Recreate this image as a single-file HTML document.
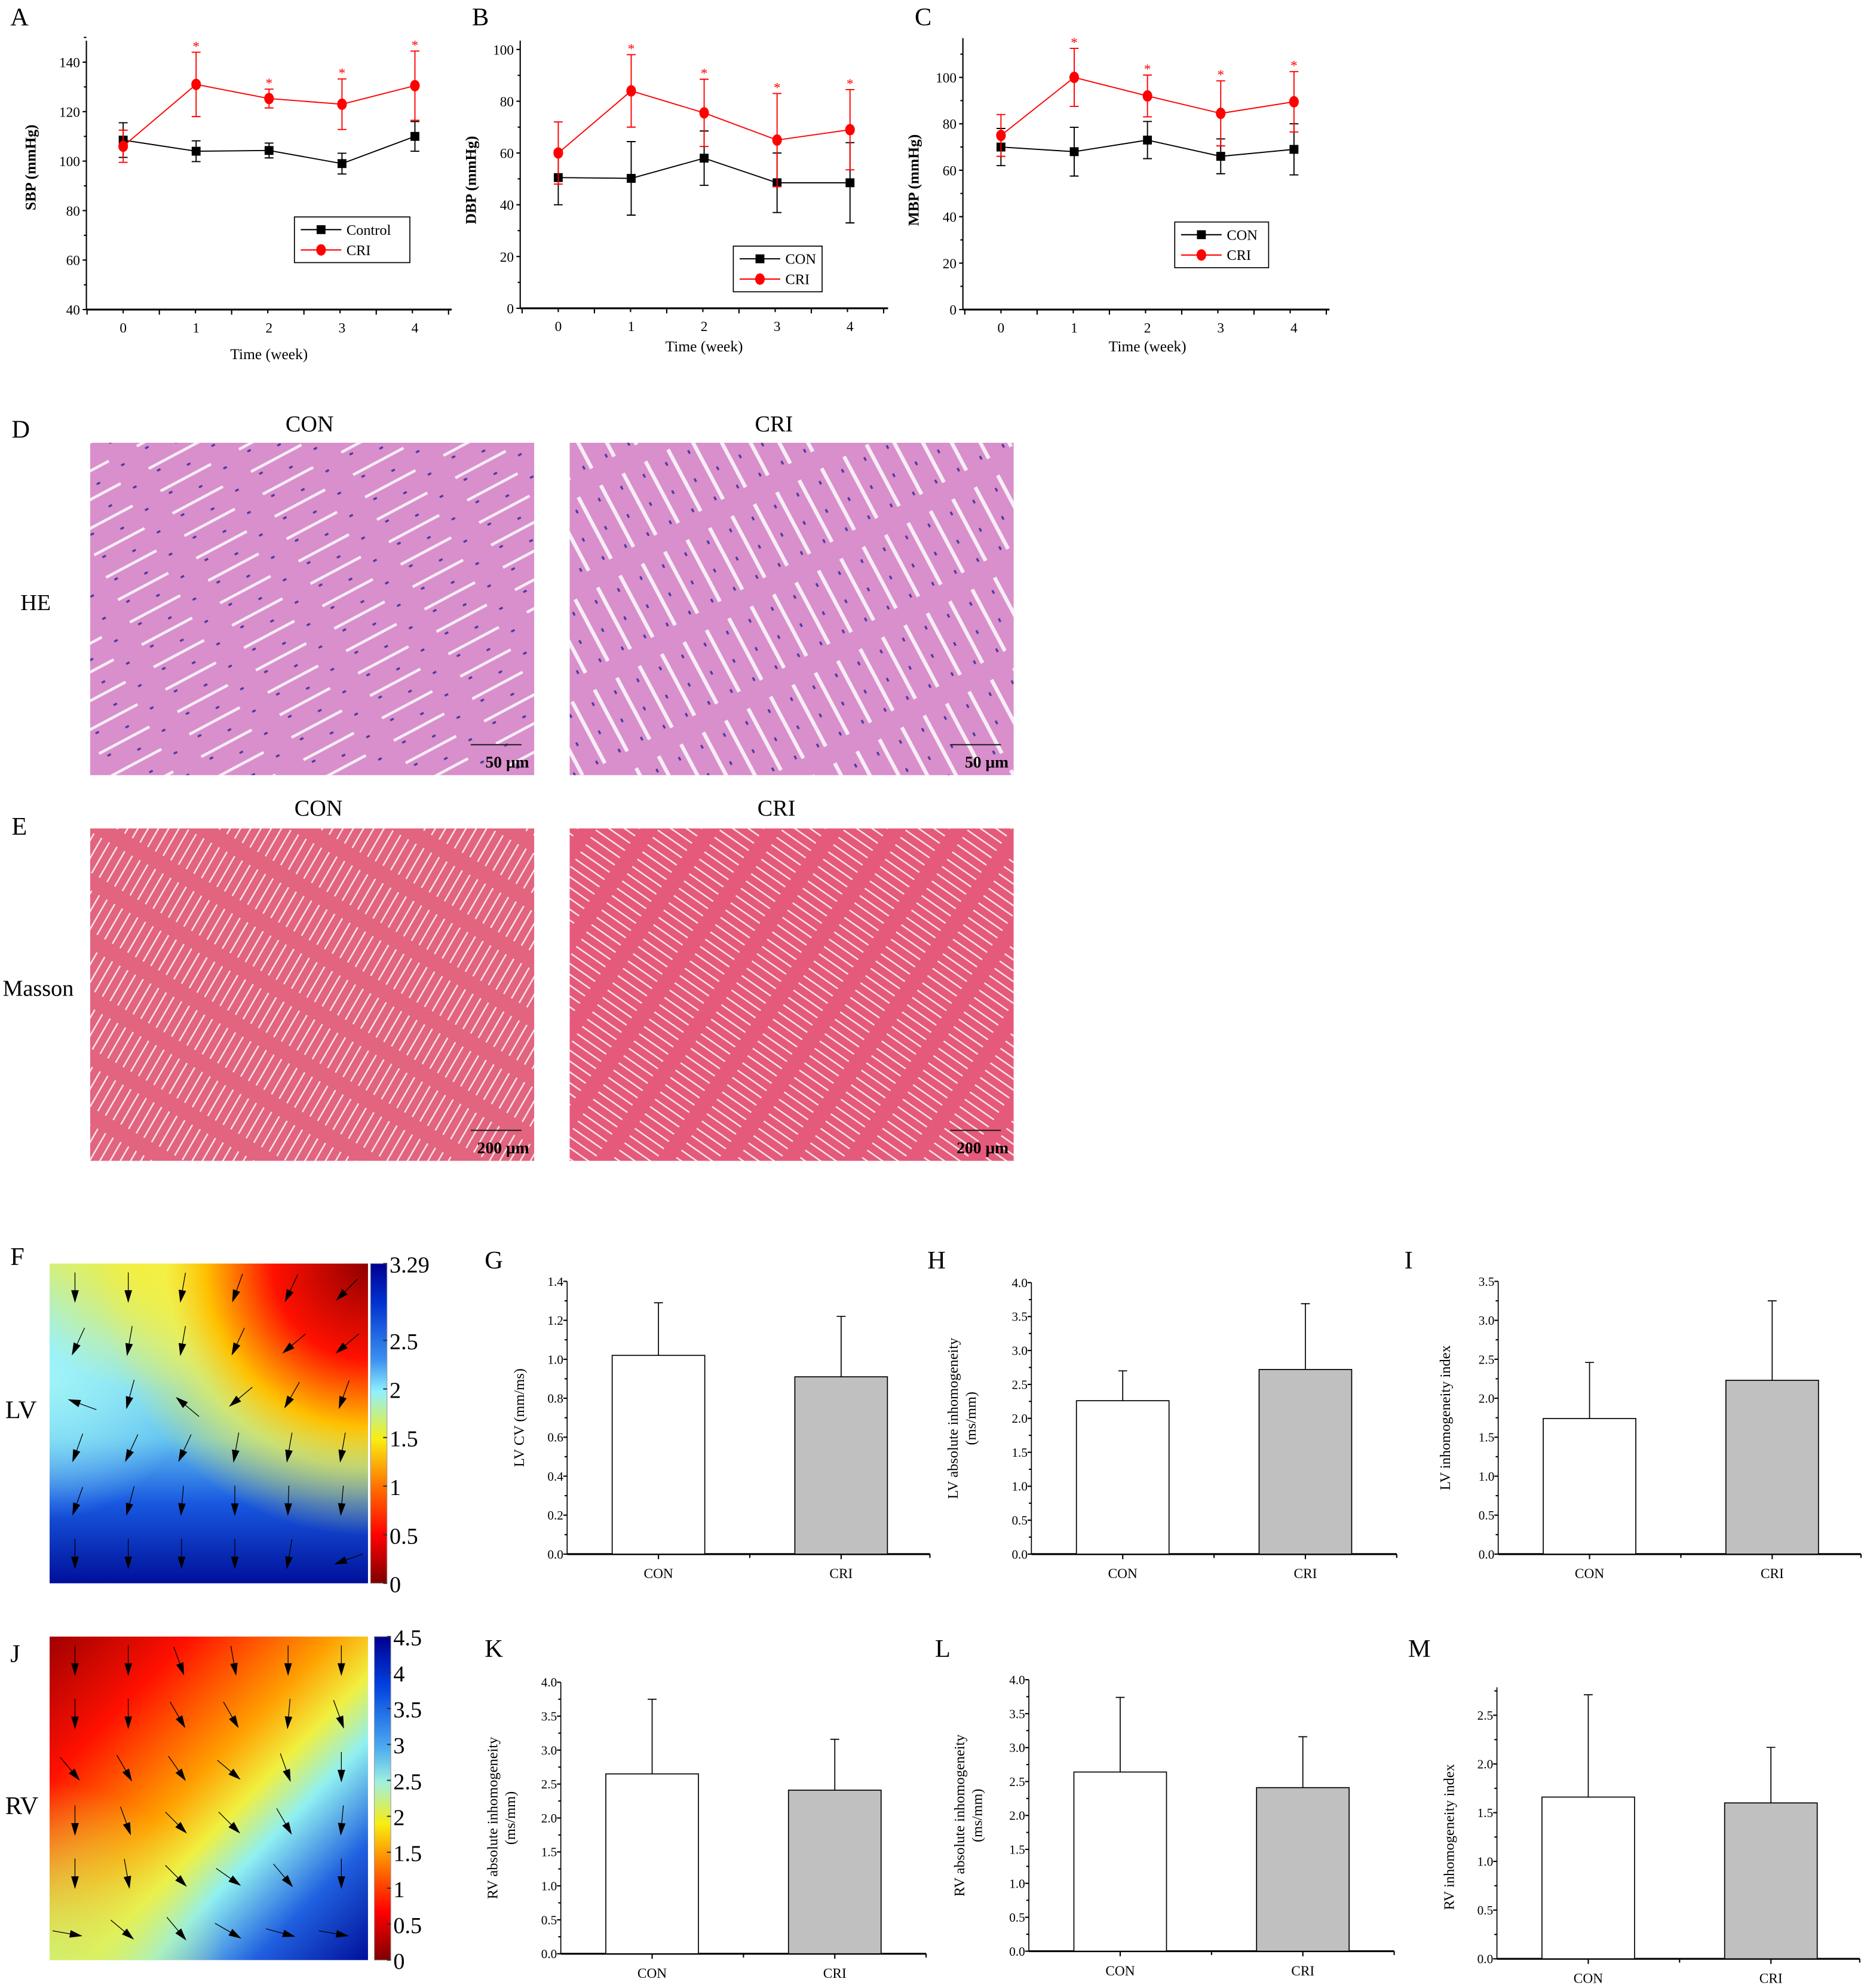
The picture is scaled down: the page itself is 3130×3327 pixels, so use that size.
<!DOCTYPE html>
<html><head><meta charset="utf-8"><style>
html,body{margin:0;padding:0;background:#fff;}
svg{display:block;}
text{font-family:"Liberation Serif",serif;}
</style></head><body>
<svg id="fig" width="3130" height="3327" viewBox="0 0 1474 1567" xmlns="http://www.w3.org/2000/svg">
<defs>
<pattern id="heP" width="70" height="20" patternUnits="userSpaceOnUse" patternTransform="rotate(-28)">
<rect width="70" height="20" fill="#d98fcb"/>
<rect y="0" width="45" height="2.2" fill="#f6eef6"/>
<rect x="5" y="5" width="3" height="1.6" fill="#4a3aa0"/><rect x="28" y="12" width="3" height="1.6" fill="#4a3aa0"/><rect x="52" y="8" width="3" height="1.6" fill="#4a3aa0"/>
</pattern>
<pattern id="heP2" width="70" height="20" patternUnits="userSpaceOnUse" patternTransform="rotate(62)">
<rect width="70" height="20" fill="#d98fcb"/>
<rect y="0" width="55" height="3" fill="#f6eef6"/>
<rect x="8" y="7" width="3" height="1.6" fill="#4a3aa0"/><rect x="30" y="13" width="3" height="1.6" fill="#4a3aa0"/><rect x="50" y="6" width="3" height="1.6" fill="#4a3aa0"/>
</pattern>
<pattern id="maP" width="40" height="7" patternUnits="userSpaceOnUse" patternTransform="rotate(-60)">
<rect width="40" height="7" fill="#e2647f"/><rect width="28" height="1.2" fill="#f8e4ea"/>
</pattern>
<pattern id="maP2" width="40" height="7" patternUnits="userSpaceOnUse" patternTransform="rotate(35)">
<rect width="40" height="7" fill="#e55a7a"/><rect width="28" height="1.2" fill="#f8e4ea"/>
</pattern>
<linearGradient id="cbF" x1="0" y1="0" x2="0" y2="1">
<stop offset="0" stop-color="#00008f"/><stop offset="0.12" stop-color="#0030d0"/><stop offset="0.3" stop-color="#3a90f0"/><stop offset="0.4" stop-color="#90f0ff"/><stop offset="0.55" stop-color="#f8ee10"/><stop offset="0.7" stop-color="#ff7000"/><stop offset="0.85" stop-color="#ff0000"/><stop offset="1" stop-color="#800000"/>
</linearGradient>
<linearGradient id="cbJ" x1="0" y1="0" x2="0" y2="1">
<stop offset="0" stop-color="#00008f"/><stop offset="0.15" stop-color="#0040e0"/><stop offset="0.35" stop-color="#50b0f0"/><stop offset="0.45" stop-color="#a0f0e0"/><stop offset="0.58" stop-color="#f8ee10"/><stop offset="0.7" stop-color="#ff8000"/><stop offset="0.85" stop-color="#ff0000"/><stop offset="1" stop-color="#800000"/>
</linearGradient>
<linearGradient id="hfBase" x1="0" y1="0" x2="0" y2="1">
<stop offset="0" stop-color="#d8f070"/><stop offset="0.25" stop-color="#90e8f0"/><stop offset="0.55" stop-color="#60c0f0"/><stop offset="0.75" stop-color="#1858e0"/><stop offset="1" stop-color="#00109a"/>
</linearGradient>
<radialGradient id="hfCyan" cx="0" cy="0.35" r="0.45">
<stop offset="0" stop-color="#a0f4f8"/><stop offset="1" stop-color="#a0f4f8" stop-opacity="0"/>
</radialGradient>
<radialGradient id="hfRed" cx="1" cy="0" r="0.85">
<stop offset="0" stop-color="#900000"/><stop offset="0.35" stop-color="#ff1000"/><stop offset="0.6" stop-color="#ffc000"/><stop offset="0.75" stop-color="#f8f040" stop-opacity="0.7"/><stop offset="1" stop-color="#f8f040" stop-opacity="0"/>
</radialGradient>
<radialGradient id="hfYel" cx="0.3" cy="0" r="0.4">
<stop offset="0" stop-color="#f0ee40"/><stop offset="1" stop-color="#f0ee40" stop-opacity="0"/>
</radialGradient>
<linearGradient id="hjBase" x1="0" y1="0" x2="1" y2="1">
<stop offset="0" stop-color="#a00000"/><stop offset="0.22" stop-color="#ff1000"/><stop offset="0.45" stop-color="#ffa000"/><stop offset="0.56" stop-color="#f0f040"/><stop offset="0.66" stop-color="#90f0f0"/><stop offset="0.82" stop-color="#2060e0"/><stop offset="1" stop-color="#00109a"/>
</linearGradient>
<radialGradient id="hjYel" cx="0" cy="1" r="0.55">
<stop offset="0" stop-color="#d0f070"/><stop offset="1" stop-color="#e0f060" stop-opacity="0"/>
</radialGradient>
</defs>
<g id="root"></g>
</svg>
<script>
// ---- data ----
const weeks = [0,1,2,3,4];
const sbpCon = [108.5,104,104.3,99,110];
const sbpConErr = [7,4.2,3,4.2,6];
const sbpCri = [106,131,125.3,123,130.5];
const sbpCriErr = [6.5,13,3.8,10.2,14];
const dbpCon = [50.5,50.2,58,48.5,48.5];
const dbpConErr = [10.5,14.2,10.5,11.5,15.5];
const dbpCri = [60,84,75.5,65,69];
const dbpCriErr = [12,14,13,18,15.5];
const mbpCon = [70,68,73,66,69];
const mbpConErr = [8,10.5,8,7.5,11];
const mbpCri = [75,100,92,84.5,89.5];
const mbpCriErr = [9,12.5,9,14,13];
const barCats = ['CON','CRI'];
const lvCv = [1.02,0.91]; const lvCvErr = [0.27,0.31];
const lvAbs = [2.26,2.72]; const lvAbsErr = [0.44,0.97];
const lvIdx = [1.74,2.23]; const lvIdxErr = [0.72,1.02];
const rvAbsK = [2.65,2.41]; const rvAbsKErr = [1.1,0.75];
const rvAbsL = [2.64,2.41]; const rvAbsLErr = [1.1,0.75];
const rvIdx = [1.66,1.6]; const rvIdxErr = [1.05,0.57];
const cbFTicks = ['3.29','2.5','2','1.5','1','0.5','0'];
const cbFVals = [3.29,2.5,2,1.5,1,0.5,0];
const cbJTicks = ['4.5','4','3.5','3','2.5','2','1.5','1','0.5','0'];
const cbJVals = [4.5,4,3.5,3,2.5,2,1.5,1,0.5,0];

const NS='http://www.w3.org/2000/svg';
const root=document.getElementById('root');
function mk(tag,attrs,parent,txt){const e=document.createElementNS(NS,tag);for(const k in attrs)e.setAttribute(k,attrs[k]);if(txt!==undefined)e.textContent=txt;(parent||root).appendChild(e);return e;}
function grp(name,parent){const g=mk('g',{},parent);return g;}
function label(t,x,y,size,name,anchor){const e=mk('text',{x:x,y:y,'font-size':size,'text-anchor':anchor||'start'},root,t);return e;}

// ---- line charts ----
function lineChart(o){
  const g=grp(o.name);
  const sx=v=>o.x0+(v-weeks[0])/(weeks[4]-weeks[0])*(o.x4-o.x0);
  const sy=v=>o.yb-(v-o.ymin)/(o.ymax-o.ymin)*(o.yb-o.yt);
  mk('line',{x1:o.ax,y1:o.yTop,x2:o.ax,y2:o.yb,stroke:'#000','stroke-width':1},g);
  mk('line',{x1:o.ax,y1:o.yb,x2:o.axEnd,y2:o.yb,stroke:'#000','stroke-width':1.5},g);
  for(let v=o.ymin;v<=o.ymax+1e-6;v+=o.ystep){const y=sy(v);mk('line',{x1:o.ax-3,y1:y,x2:o.ax,y2:y,stroke:'#000'},g);
    const t=mk('text',{x:o.ax-5,y:y+4,'font-size':11,'text-anchor':'end'},g,String(v));
    const ym=sy(v+o.ystep/2); if(v+o.ystep<=o.ymax+1e-6||o.minorTop) mk('line',{x1:o.ax-2,y1:ym,x2:o.ax,y2:ym,stroke:'#000'},g);}
  const half=(o.x1-o.x0)/2;
  for(let i=0;i<=10;i++){const x=o.x0-half+i*half; if(x<o.ax-0.5||x>o.axEnd+0.5)continue; mk('line',{x1:x,y1:o.yb,x2:x,y2:o.yb+(i%2?3:4),stroke:'#000'},g);}
  weeks.forEach(w=>{const t=mk('text',{x:sx(w),y:o.yb+18,'font-size':11,'text-anchor':'middle'},g,String(w));});
  const xt=mk('text',{x:(o.x0+o.x4)/2,y:o.xtY,'font-size':12,'text-anchor':'middle'},g,'Time (week)');
  const yt=mk('text',{x:0,y:0,'font-size':12,'font-weight':'bold','text-anchor':'middle',transform:`translate(${o.ytX},${o.ytY}) rotate(-90)`},g,o.ytitle);
  function series(vals,errs,color,shape,nm,star){
    const sg=grp(nm,g);
    mk('polyline',{points:vals.map((v,i)=>sx(weeks[i])+','+sy(v)).join(' '),fill:'none',stroke:color,'stroke-width':0.9},sg);
    vals.forEach((v,i)=>{const x=sx(weeks[i]);const yt=sy(v+errs[i]),yb2=sy(v-errs[i]);
      const e=mk('path',{d:`M${x},${yt}V${yb2}M${x-3.5},${yt}H${x+3.5}M${x-3.5},${yb2}H${x+3.5}`,stroke:color,'stroke-width':0.9,fill:'none'},sg);
      
      let m; if(shape==='sq'){m=mk('rect',{x:x-3.5,y:sy(v)-3.5,width:7,height:7,fill:color},sg);}else{m=mk('ellipse',{cx:x,cy:sy(v),rx:3.8,ry:4.5,fill:color},sg);}
      
      if(star&&i>0){const s=mk('text',{x:x,y:yt-1,'font-size':11,fill:'#f00','text-anchor':'middle'},sg,'*');}
    });
  }
  series(o.con,o.conErr,'#000','sq','series-control',false);
  series(o.cri,o.criErr,'#f00','ci','series-cri',true);
  const lg=grp('legend',g);
  mk('rect',{x:o.lx,y:o.ly,width:o.lw,height:36,fill:'#fff',stroke:'#000','stroke-width':0.8},lg);
  [[o.names[0],'#000','sq'],[o.names[1],'#f00','ci']].forEach((it,i)=>{
    const y=o.ly+10+i*16; const e=grp('legend-entry',lg);
    mk('line',{x1:o.lx+5,y1:y,x2:o.lx+37,y2:y,stroke:it[1]},e);
    if(it[2]==='sq')mk('rect',{x:o.lx+17.5,y:y-3.5,width:7,height:7,fill:it[1]},e);else mk('ellipse',{cx:o.lx+21,cy:y,rx:3.8,ry:4.5,fill:it[1]},e);
    mk('text',{x:o.lx+41,y:y+4,'font-size':11.5},e,it[0]);
  });
}
lineChart({name:'chart-sbp',ax:68,axEnd:356,yTop:32,yb:244,yt:49,ymin:40,ymax:140,ystep:20,minorTop:true,x0:97,x1:154,x4:327,con:sbpCon,conErr:sbpConErr,cri:sbpCri,criErr:sbpCriErr,xtY:283,ytitle:'SBP (mmHg)',ytX:28,ytY:132,lx:232,ly:171,lw:91,names:['Control','CRI']});
lineChart({name:'chart-dbp',ax:410,axEnd:700,yTop:32,yb:243,yt:39,ymin:0,ymax:100,ystep:20,x0:440,x1:497,x4:670,con:dbpCon,conErr:dbpConErr,cri:dbpCri,criErr:dbpCriErr,xtY:277,ytitle:'DBP (mmHg)',ytX:375,ytY:142,lx:578,ly:194,lw:70,names:['CON','CRI']});
lineChart({name:'chart-mbp',ax:759,axEnd:1048,yTop:30,yb:244,yt:61,ymin:0,ymax:100,ystep:20,minorTop:true,x0:789,x1:846,x4:1020,con:mbpCon,conErr:mbpConErr,cri:mbpCri,criErr:mbpCriErr,xtY:277,ytitle:'MBP (mmHg)',ytX:724,ytY:142,lx:926,ly:175,lw:74,names:['CON','CRI']});

label('A',8,20,20,'panel-label-a');label('B',372,20,20,'panel-label-b');label('C',721,20,20,'panel-label-c');

// ---- histology ----
label('D',9,345,20,'panel-label-d');label('E',9,658,20,'panel-label-e');
label('CON',244,340,18,'he-con-title','middle');label('CRI',610,340,18,'he-cri-title','middle');
label('CON',251,643,18,'masson-con-title','middle');label('CRI',612,643,18,'masson-cri-title','middle');
label('HE',16,481,18,'he-row-label');label('Masson',2,785,18,'masson-row-label');
function histo(x,y,fill,name,scale){const g=grp(name);mk('rect',{x:x,y:y,width:350,height:262,fill:fill},g);
  const t=mk('text',{x:x+346,y:y+256,'font-size':13,'font-weight':'bold','font-family':'Liberation Sans, sans-serif','text-anchor':'end'},g,scale);
  mk('line',{x1:x+300,y1:y+238,x2:x+340,y2:y+238,stroke:'#222','stroke-width':1},g);}
histo(71,349,'url(#heP)','he-con-image','50 μm');
histo(449,349,'url(#heP2)','he-cri-image','50 μm');
histo(71,653,'url(#maP)','masson-con-image','200 μm');
histo(449,653,'url(#maP2)','masson-cri-image','200 μm');

// ---- heatmaps ----
function heat(o){const g=grp(o.name);
  o.layers.forEach(l=>mk('rect',{x:o.x,y:o.y,width:o.w,height:o.h,fill:l},g));
  const cb=grp('colorbar',g);
  mk('rect',{x:o.cx,y:o.y,width:13,height:o.h,fill:o.cb,stroke:'#999','stroke-width':0.5},cb);
  const vmax=o.vals[0];
  o.vals.forEach((v,i)=>{const yy=o.y+o.h-(v/vmax)*o.h;
    mk('line',{x1:o.cx+10,y1:yy,x2:o.cx+13,y2:yy,stroke:'#333'},cb);
    const t=mk('text',{x:o.cx+15,y:yy+7,'font-size':18,'font-family':'Liberation Sans, sans-serif'},cb,o.ticks[i]);});
  const ag=grp('arrows',g);
  for(let r=0;r<6;r++)for(let c=0;c<6;c++){const x=o.x+20+c*42,y=o.y+25+r*42;const a=o.ang[r][c]*Math.PI/180;
    const dx=Math.cos(a),dy=Math.sin(a);const L=18;
    mk('line',{x1:x-dx*L,y1:y-dy*L,x2:x,y2:y,stroke:'#000','stroke-width':0.6},ag);
    const px=-dy,py=dx;
    mk('polygon',{points:`${x+dx*6},${y+dy*6} ${x-dx*4+px*3},${y-dy*4+py*3} ${x-dx*4-px*3},${y-dy*4-py*3}`,fill:'#000'},ag);}
}
heat({name:'heatmap-lv',x:39,y:996,w:251,h:252,cx:292,cb:'url(#cbF)',layers:['url(#hfBase)','url(#hfCyan)','url(#hfYel)','url(#hfRed)'],vals:cbFVals,ticks:cbFTicks,
 ang:[[90,90,100,110,115,135],[115,100,100,115,140,140],[200,105,220,140,120,110],[110,115,115,100,100,100],[110,105,95,90,92,95],[90,90,90,90,100,160]]});
heat({name:'heatmap-rv',x:39,y:1290,w:251,h:255,cx:295,cb:'url(#cbJ)',layers:['url(#hjBase)','url(#hjYel)'],vals:cbJVals,ticks:cbJTicks,
 ang:[[90,90,70,80,90,90],[90,90,60,60,95,70],[50,60,55,40,70,90],[90,70,45,45,60,95],[90,80,45,35,50,90],[10,40,50,30,15,10]]});
label('F',8,997,20,'panel-label-f');label('J',8,1310,20,'panel-label-j');
label('LV',4,1118,20,'lv-row-label');label('RV',4,1430,20,'rv-row-label');

// ---- bar charts ----
function barChart(o){const g=grp(o.name);
  const sy=v=>o.yb-(v/o.ymax)*(o.yb-o.yt);
  const top=o.topY!==undefined?o.topY:o.yt;
  mk('line',{x1:o.ax,y1:top,x2:o.ax,y2:o.yb,stroke:'#000','stroke-width':0.8},g);
  mk('line',{x1:o.ax,y1:o.yb,x2:o.axEnd,y2:o.yb,stroke:'#000','stroke-width':1.5},g);
  for(let v=0;v<=o.ymax+1e-6;v+=o.step){const y=sy(v);mk('line',{x1:o.ax-3,y1:y,x2:o.ax,y2:y,stroke:'#000'},g);
    const t=mk('text',{x:o.ax-3,y:y+3.5,'font-size':10,'text-anchor':'end'},g,v.toFixed(1));
    const ym=sy(v+o.step/2);if(ym>=top)mk('line',{x1:o.ax-2,y1:ym,x2:o.ax,y2:ym,stroke:'#000'},g);}
  const bw=73, cx=[o.ax+72,o.ax+216];
  mk('line',{x1:(cx[0]+cx[1])/2,y1:o.yb,x2:(cx[0]+cx[1])/2,y2:o.yb+3,stroke:'#000'},g);
  mk('line',{x1:o.axEnd,y1:o.yb,x2:o.axEnd,y2:o.yb+3,stroke:'#000'},g);
  o.vals.forEach((v,i)=>{const b=mk('rect',{x:cx[i]-bw/2,y:sy(v),width:bw,height:o.yb-sy(v),fill:i?'#c0c0c0':'#fff',stroke:'#000','stroke-width':0.8},g);
    
    const et=sy(v+o.errs[i]);
    const e=mk('path',{d:`M${cx[i]},${sy(v)}V${et}M${cx[i]-3.5},${et}H${cx[i]+3.5}`,stroke:'#000','stroke-width':0.8,fill:'none'},g);
    mk('line',{x1:cx[i],y1:o.yb,x2:cx[i],y2:o.yb+4,stroke:'#000'},g);
    const t=mk('text',{x:cx[i],y:o.yb+19,'font-size':11,'text-anchor':'middle'},g,barCats[i]);});
  o.ytitle.forEach((ln,i)=>{const t=mk('text',{x:0,y:0,'font-size':11.5,'text-anchor':'middle',transform:`translate(${o.ytX+i*14},${(o.yt+o.yb)/2}) rotate(-90)`},g,ln);});
}
barChart({name:'chart-lv-cv',ax:447,axEnd:733,yb:1225,yt:1010,ymax:1.4,step:0.2,vals:lvCv,errs:lvCvErr,ytitle:['LV CV (mm/ms)'],ytX:413});
barChart({name:'chart-lv-abs',ax:813,axEnd:1101,yb:1225,yt:1011,ymax:4.0,step:0.5,vals:lvAbs,errs:lvAbsErr,ytitle:['LV absolute inhomogeneity','(ms/mm)'],ytX:755});
barChart({name:'chart-lv-index',ax:1181,axEnd:1467,yb:1225,yt:1010,ymax:3.5,step:0.5,vals:lvIdx,errs:lvIdxErr,ytitle:['LV inhomogeneity index'],ytX:1143});
barChart({name:'chart-rv-abs-k',ax:442,axEnd:730,yb:1540,yt:1326,ymax:4.0,step:0.5,vals:rvAbsK,errs:rvAbsKErr,ytitle:['RV absolute inhomogeneity','(ms/mm)'],ytX:392});
barChart({name:'chart-rv-abs-l',ax:811,axEnd:1099,yb:1538,yt:1324,ymax:4.0,step:0.5,vals:rvAbsL,errs:rvAbsLErr,ytitle:['RV absolute inhomogeneity','(ms/mm)'],ytX:760});
barChart({name:'chart-rv-index',ax:1180,axEnd:1466,yb:1544,yt:1352,ymax:2.5,step:0.5,topY:1330,vals:rvIdx,errs:rvIdxErr,ytitle:['RV inhomogeneity index'],ytX:1146});
label('G',382,1000,20,'panel-label-g');label('H',731,1000,20,'panel-label-h');label('I',1107,1000,20,'panel-label-i');
label('K',382,1306,20,'panel-label-k');label('L',737,1306,20,'panel-label-l');label('M',1110,1306,20,'panel-label-m');
</script>
</body></html>
